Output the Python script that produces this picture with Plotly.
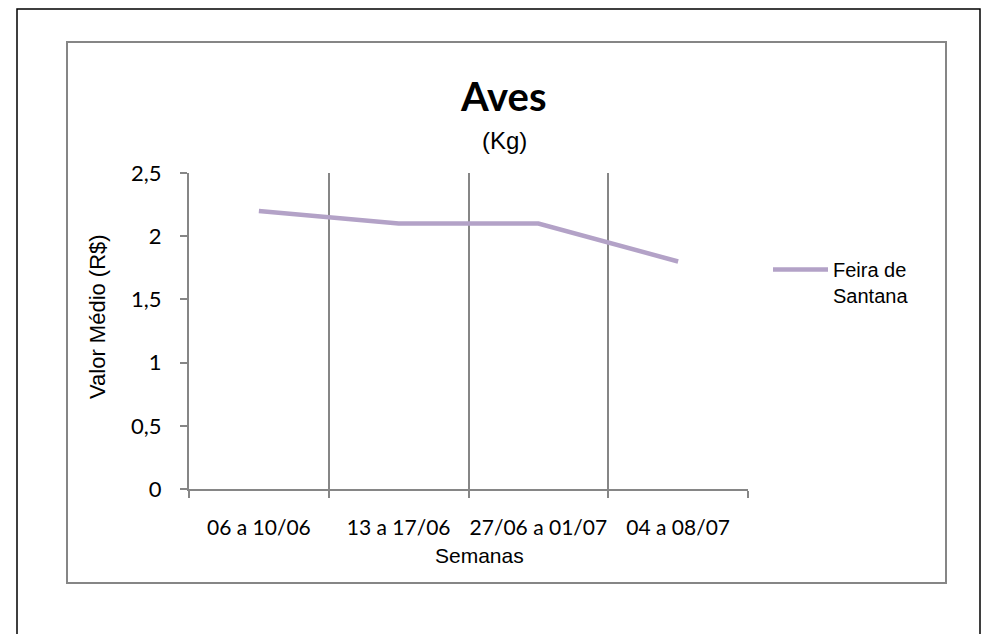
import plotly.graph_objects as go

# weekly average price, Feira de Santana
semanas = ['06 a 10/06', '13 a 17/06', '27/06 a 01/07', '04 a 08/07']
valor_medio = [2.2, 2.1, 2.1, 1.8]
serie = 'Feira de<br>Santana'

OFF = 8  # page body margin
W, H = 989, 634
L, R, T, B = 189 - OFF, 748 - OFF, 173 - OFF, 489 - OFF  # plot area in figure pixels


def px_x(px):
    return (px - OFF - L) / (R - L)


def px_y(py):
    return (B - (py - OFF)) / (B - T)


GRID = '#868686'
LINE = '#B3A2C7'
CAL = 'Lato, Calibri, sans-serif'
ARI = 'Liberation Sans, Arial, sans-serif'

fig = go.Figure()
fig.add_trace(go.Scatter(
    x=semanas,
    y=valor_medio,
    mode='lines',
    name=serie,
    line=dict(color=LINE, width=4.5),
))

fig.update_layout(
    width=W,
    height=H,
    margin=dict(l=L, r=W - R, t=T, b=H - B),
    paper_bgcolor='white',
    plot_bgcolor='white',
    separators=', ',
    showlegend=True,
    legend=dict(
        x=px_x(768), y=px_y(250), xanchor='left', yanchor='top',
        font=dict(family=ARI, size=20, color='black'),
        valign='top', itemwidth=55, bgcolor='rgba(0,0,0,0)',
    ),
    xaxis=dict(
        type='category',
        range=[-0.5, 3.5],
        tickson='boundaries',
        showgrid=True, gridcolor=GRID, gridwidth=1.5,
        showline=True, linecolor=GRID, linewidth=2,
        ticks='outside', ticklen=7, tickcolor=GRID, tickwidth=1.5,
        tickangle=0,
        ticklabelstandoff=19,
        tickfont=dict(family=CAL, size=21, color='black'),
        zeroline=False,
    ),
    yaxis=dict(
        range=[0, 2.5],
        dtick=0.5,
        showgrid=False,
        showline=True, linecolor=GRID, linewidth=2,
        ticks='outside', ticklen=7, tickcolor=GRID, tickwidth=1.5,
        ticklabelstandoff=14,
        tickfont=dict(family=CAL, size=22, color='black'),
        zeroline=False,
    ),
    annotations=[
        dict(text='<b>Aves</b>', x=px_x(503), y=px_y(96), xref='paper', yref='paper',
             xanchor='center', yanchor='middle', showarrow=False,
             font=dict(family=CAL, size=40, color='black')),
        dict(text='(Kg)', x=px_x(504), y=px_y(141), xref='paper', yref='paper',
             xanchor='center', yanchor='middle', showarrow=False,
             font=dict(family=ARI, size=24, color='black')),
        dict(text='Semanas', x=px_x(479), y=px_y(555), xref='paper', yref='paper',
             xanchor='center', yanchor='middle', showarrow=False,
             font=dict(family=ARI, size=21, color='black')),
        dict(text='Valor Médio (R$)', x=px_x(97), y=px_y(317), xref='paper', yref='paper',
             xanchor='center', yanchor='middle', textangle=-90, showarrow=False,
             font=dict(family=ARI, size=22, color='black')),
    ],
    shapes=[
        # outer frame (bottom edge runs off the page)
        dict(type='path', xref='paper', yref='paper',
             path=f'M {px_x(17)},{px_y(650)} L {px_x(17)},{px_y(9)} L {px_x(980)},{px_y(9)} L {px_x(980)},{px_y(650)}',
             line=dict(color='black', width=1.5)),
        # chart area border
        dict(type='rect', xref='paper', yref='paper',
             x0=px_x(67), y0=px_y(583), x1=px_x(946), y1=px_y(42),
             line=dict(color=GRID, width=2), layer='below'),
    ],
)

fig.write_html('out.html')
